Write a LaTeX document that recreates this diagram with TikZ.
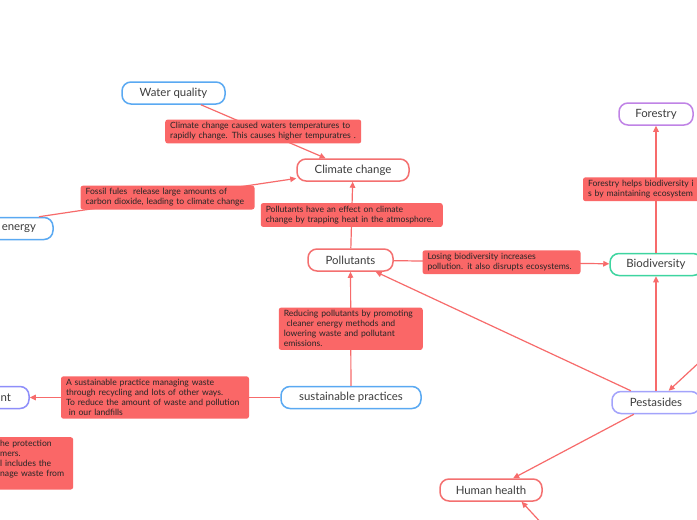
\documentclass[tikz,border=0pt]{standalone}
\usepackage{fontspec}
\setmainfont{Lato}
\usepackage{xcolor}
\usetikzlibrary{positioning, arrows.meta}

\definecolor{linkred}{HTML}{F76B6B}
\definecolor{boxred}{HTML}{FA6767}
\definecolor{tblue}{HTML}{5AA9F2}
\definecolor{tred}{HTML}{F47070}
\definecolor{tgreen}{HTML}{3ED5A0}
\definecolor{tpurple}{HTML}{C083E6}
\definecolor{tviolet}{HTML}{8E8EFA}
\definecolor{tlav}{HTML}{A3A3FB}
\definecolor{ink}{HTML}{3C3C3C}

\begin{document}
\begin{tikzpicture}[x=1pt, y=-1pt,
    topic/.style={rectangle, draw, line width=1.5pt, rounded corners=9pt, fill=white,
                  minimum height=22pt, inner xsep=4pt, font=\fontsize{11.4}{13}\selectfont, text=ink},
    note/.style={rectangle, fill=boxred, rounded corners=2.5pt, align=left, inner xsep=5pt,
                 inner ysep=3pt, font=\fontsize{8.6}{10}\selectfont, text=black!85},
    arr/.style={-{Triangle[length=6pt, width=5.5pt]}, line width=1.2pt, draw=linkred}
  ]
  \useasboundingbox (0,0) rectangle (697,520);
  \fill[white] (0,0) rectangle (697,520);

  \node[topic, draw=tblue, minimum width=103pt]   (wq) at (173.5,93)  {Water quality};
  \node[topic, draw=tred, minimum width=112pt]    (cc) at (353,170)   {Climate change};
  \node[topic, draw=tblue, text width=152pt, align=right, inner xsep=17pt] (en) at (-40,228.5) {energy};
  \node[topic, draw=tred, minimum width=85pt]     (po) at (350.5,260) {Pollutants};
  \node[topic, draw=tgreen, minimum width=92pt]   (bd) at (656,264.5) {Biodiversity};
  \node[topic, draw=tpurple, minimum width=74pt]  (fo) at (656,114)   {Forestry};
  \node[topic, draw=tblue, minimum width=140pt]   (sp) at (351,397.5) {sustainable practices};
  \node[topic, draw=tviolet, text width=84pt, align=right, inner xsep=18pt] (wm) at (-31,397.5) {nt};
  \node[topic, draw=tlav, minimum width=88pt]     (pe) at (656,402.5) {Pestasides};
  \node[topic, draw=tred, minimum width=102pt]    (hh) at (491,490)   {Human health};
  \coordinate (pin) at (705,357);
  \coordinate (hin) at (545,527);

  \draw[arr] (wq) -- node[note, text width=186pt]
    {Climate change caused waters temperatures to\\rapidly change. This causes higher tempuratres .} (cc);
  \draw[arr] (en) -- node[note, text width=164pt]
    {Fossil fules\ \ release large amounts of\\carbon dioxide, leading to climate change} (cc);
  \draw[arr] (po) -- node[note, text width=172pt]
    {Pollutants have an effect on climate\\change by trapping heat in the atmosphore.} (cc);
  \draw[arr] (po) -- node[note, text width=148pt]
    {Losing biodiversity increases\\pollution. it also disrupts ecosystems.} (bd);
  \draw[arr] (bd) -- node[note, text width=136pt]
    {Forestry helps biodiversity i\\s by maintaining ecosystem} (fo);
  \draw[arr] (sp) -- node[note, text width=134pt]
    {Reducing pollutants by promoting\\\ cleaner energy methods and\\lowering waste and pollutant\\emissions.} (po);
  \draw[arr] (sp) -- node[note, text width=178pt]
    {A sustainable practice managing waste\\through recycling and lots of other ways.\\To reduce the amount of waste and pollution\\\ in our landfills} (wm);
  \draw[arr] (pe) -- (po);
  \draw[arr] (pe) -- (bd);
  \draw[arr] (pin) -- (pe);
  \draw[arr] (pe) -- (hh);
  \draw[arr] (hin) -- (hh.-21);

  \node[note, text width=68pt, anchor=north west] (wmnote) at (-5,437)
    {he protection\\mers.\\l includes the\\nage waste from\\\mbox{}};
\end{tikzpicture}
\end{document}
